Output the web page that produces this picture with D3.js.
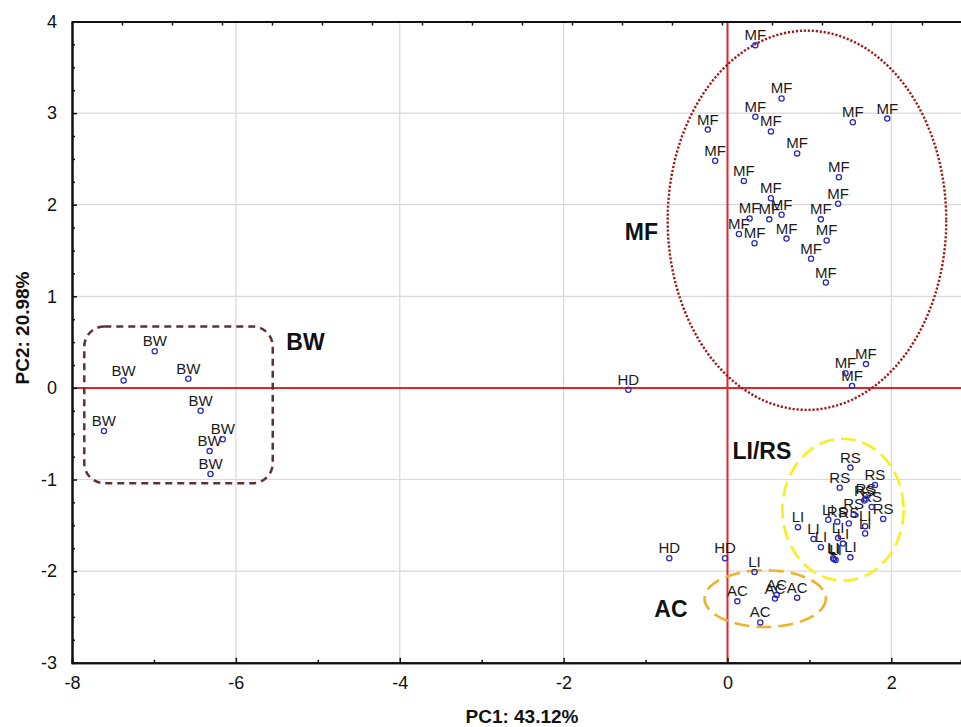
<!DOCTYPE html>
<html>
<head>
<meta charset="utf-8">
<script src="https://cdn.jsdelivr.net/npm/d3@7/dist/d3.min.js"></script>
<style>
  body { margin: 0; background: #fff; }
  svg { display: block; font-family: Arial, "Liberation Sans", sans-serif; }
</style>
</head>
<body>
<svg id="chart" width="961" height="727"></svg>
<script>
// PCA scores, PC1 vs PC2
var mfPoints = [
  [0.34, 3.74], [0.66, 3.16], [0.34, 2.96], [0.53, 2.80], [-0.24, 2.82],
  [1.53, 2.90], [1.95, 2.94], [0.85, 2.56], [-0.15, 2.48], [0.20, 2.26],
  [1.36, 2.30], [0.53, 2.07], [1.35, 2.01], [0.27, 1.85], [0.51, 1.84],
  [0.66, 1.89], [1.14, 1.84], [0.14, 1.68], [0.33, 1.58], [0.72, 1.63],
  [1.21, 1.61], [1.02, 1.41], [1.20, 1.15], [1.69, 0.26], [1.44, 0.16],
  [1.52, 0.02]
];
var bwPoints = [
  [-6.99, 0.40], [-7.37, 0.08], [-6.58, 0.10], [-6.43, -0.25],
  [-7.61, -0.47], [-6.16, -0.56], [-6.32, -0.69], [-6.31, -0.94]
];
var hdPoints = [[-1.21, -0.02], [-0.71, -1.86], [-0.03, -1.86]];
var rsPoints = [
  [1.50, -0.87], [1.37, -1.09], [1.80, -1.06], [1.67, -1.23], [1.69, -1.21],
  [1.76, -1.30], [1.90, -1.43], [1.54, -1.38], [1.48, -1.48], [1.34, -1.46]
];
var liPoints = [
  [1.23, -1.44], [0.86, -1.52], [1.05, -1.65], [1.14, -1.74], [1.35, -1.64],
  [1.41, -1.70], [1.29, -1.86], [1.32, -1.88], [1.30, -1.87], [1.50, -1.85],
  [1.68, -1.51], [1.68, -1.59], [0.33, -2.01]
];
var acPoints = [[0.12, -2.33], [0.58, -2.30], [0.60, -2.26], [0.85, -2.29], [0.40, -2.56]];

var groupNames = ['MF', 'BW', 'HD', 'RS', 'LI', 'AC'];
var groupPoints = [mfPoints, bwPoints, hdPoints, rsPoints, liPoints, acPoints];

// group annotations: name, anchor [x, y]
var groupLabels = [
  ['MF', -1.05, 1.61], ['BW', -5.15, 0.41], ['LI/RS', 0.42, -0.78], ['AC', -0.69, -2.50]
];
// ellipses: centre x, centre y, radius x, radius y
var mfEllipse = [0.97, 1.83, 1.70, 2.07];
var lirsEllipse = [1.41, -1.33, 0.74, 0.775];
var acEllipse = [0.46, -2.30, 0.74, 0.31];
// BW box: x0, x1, y0, y1
var bwBox = [-7.85, -5.55, 0.67, -1.04];

var xTicks = [-8, -6, -4, -2, 0, 2];
var yTicks = [-3, -2, -1, 0, 1, 2, 3, 4];

var svg = d3.select('#chart');
var plotL = 72, plotR = 961, plotT = 21.5, plotB = 662.7;

var x = d3.scaleLinear().domain([-8, 2.85]).range([plotL, plotR]);
var y = d3.scaleLinear().domain([-3, 4]).range([plotB, plotT]);
var fmt = function (d) { return String(d); };

// grid
svg.append('g').selectAll('line')
  .data(xTicks.slice(1))
  .enter().append('line')
  .attr('x1', d => x(d)).attr('x2', d => x(d))
  .attr('y1', plotT).attr('y2', plotB)
  .style('stroke', '#d9d9d9').style('stroke-width', 1.2);
svg.append('g').selectAll('line')
  .data(yTicks.slice(1, -1))
  .enter().append('line')
  .attr('x1', plotL).attr('x2', plotR)
  .attr('y1', d => y(d)).attr('y2', d => y(d))
  .style('stroke', '#d9d9d9').style('stroke-width', 1.2);

// zero lines
svg.append('line')
  .attr('x1', x(0)).attr('x2', x(0)).attr('y1', plotT).attr('y2', plotB)
  .style('stroke', '#e3262b').style('stroke-width', 2);
svg.append('line')
  .attr('x1', plotL).attr('x2', plotR).attr('y1', y(0)).attr('y2', y(0))
  .style('stroke', '#e3262b').style('stroke-width', 2);

// axes
var xAxis = d3.axisBottom(x).tickValues(xTicks).tickFormat(fmt).tickSizeInner(-5).tickSizeOuter(0).tickPadding(14);
var xMinor = d3.axisBottom(x).tickValues(d3.range(-7, 3, 2)).tickSize(-3).tickFormat('');
var yAxis = d3.axisLeft(y).tickValues(yTicks).tickFormat(fmt).tickSizeInner(-5).tickSizeOuter(0).tickPadding(15);
var yMinor = d3.axisLeft(y).tickValues(d3.range(-3, 4, 0.25).filter(v => v % 1 !== 0)).tickSize(-3).tickFormat('');
// top axis uses its own fixed tick spacing
var topScale = d3.scaleLinear().domain([0, (plotR - plotL) / 50]).range([plotL, plotR]);
var topAxis = d3.axisTop(topScale).tickValues(d3.range(1, 18)).tickSize(-4).tickFormat('').tickSizeOuter(0);

function styleAxis(g) {
  g.select('.domain').style('stroke', '#111').style('stroke-width', 2);
  g.selectAll('.tick line').style('stroke', '#111').style('stroke-width', 1.5);
  g.selectAll('.tick text').style('font-size', '18px').style('fill', '#111')
    .style('font-family', 'Arial, "Liberation Sans", sans-serif');
}

svg.append('g').attr('transform', 'translate(0,' + plotB + ')').call(xMinor).call(styleAxis);
svg.append('g').attr('transform', 'translate(0,' + plotB + ')').call(xAxis).call(styleAxis);
svg.append('g').attr('transform', 'translate(' + plotL + ',0)').call(yMinor).call(styleAxis);
svg.append('g').attr('transform', 'translate(' + plotL + ',0)').call(yAxis).call(styleAxis);
svg.append('g').attr('transform', 'translate(0,' + plotT + ')').call(topAxis).call(styleAxis);

// outlines of groups
function ell(e, color, dash, width) {
  svg.append('ellipse')
    .attr('cx', x(e[0])).attr('cy', y(e[1]))
    .attr('rx', x(e[0] + e[2]) - x(e[0])).attr('ry', y(e[1]) - y(e[1] + e[3]))
    .style('fill', 'none').style('stroke', color)
    .style('stroke-width', width).style('stroke-dasharray', dash);
}
ell(mfEllipse, '#9e1b1b', '2.2,1.8', 2.4);
ell(lirsEllipse, '#f6f01e', '15,7', 2.6);
ell(acEllipse, '#f0b12c', '15,7', 2.6);

svg.append('rect')
  .attr('x', x(bwBox[0])).attr('y', y(bwBox[2]))
  .attr('width', x(bwBox[1]) - x(bwBox[0]))
  .attr('height', y(bwBox[3]) - y(bwBox[2]))
  .attr('rx', 20).attr('ry', 20)
  .style('fill', 'none').style('stroke', '#5c3434')
  .style('stroke-width', 2.5).style('stroke-dasharray', '7,5');

// points and labels
var pts = [];
groupPoints.forEach(function (list, i) {
  list.forEach(function (p) { pts.push({ name: groupNames[i], x: p[0], y: p[1] }); });
});

var marks = svg.append('g');
marks.selectAll('text')
  .data(pts)
  .enter().append('text')
  .attr('x', d => x(d.x)).attr('y', d => y(d.y) - 5)
  .attr('text-anchor', 'middle')
  .style('font-size', '15px').style('fill', '#1a1a1a')
  .text(d => d.name);
marks.selectAll('circle')
  .data(pts)
  .enter().append('circle')
  .attr('cx', d => x(d.x)).attr('cy', d => y(d.y)).attr('r', 2.6)
  .style('fill', 'none').style('stroke', '#2b2bbd').style('stroke-width', 1.3);

// group labels
svg.append('g').selectAll('text')
  .data(groupLabels)
  .enter().append('text')
  .attr('x', d => x(d[1])).attr('y', d => y(d[2]))
  .attr('text-anchor', 'middle')
  .style('font-size', '23px').style('font-weight', 'bold').style('fill', '#111')
  .text(d => d[0]);

// axis titles
svg.append('text')
  .attr('x', 522).attr('y', 723)
  .attr('text-anchor', 'middle')
  .style('font-size', '19px').style('font-weight', 'bold').style('fill', '#111')
  .text('PC1: 43.12%');
svg.append('text')
  .attr('transform', 'translate(29,328) rotate(-90)')
  .attr('text-anchor', 'middle')
  .style('font-size', '19px').style('font-weight', 'bold').style('fill', '#111')
  .text('PC2: 20.98%');
</script>
</body>
</html>
